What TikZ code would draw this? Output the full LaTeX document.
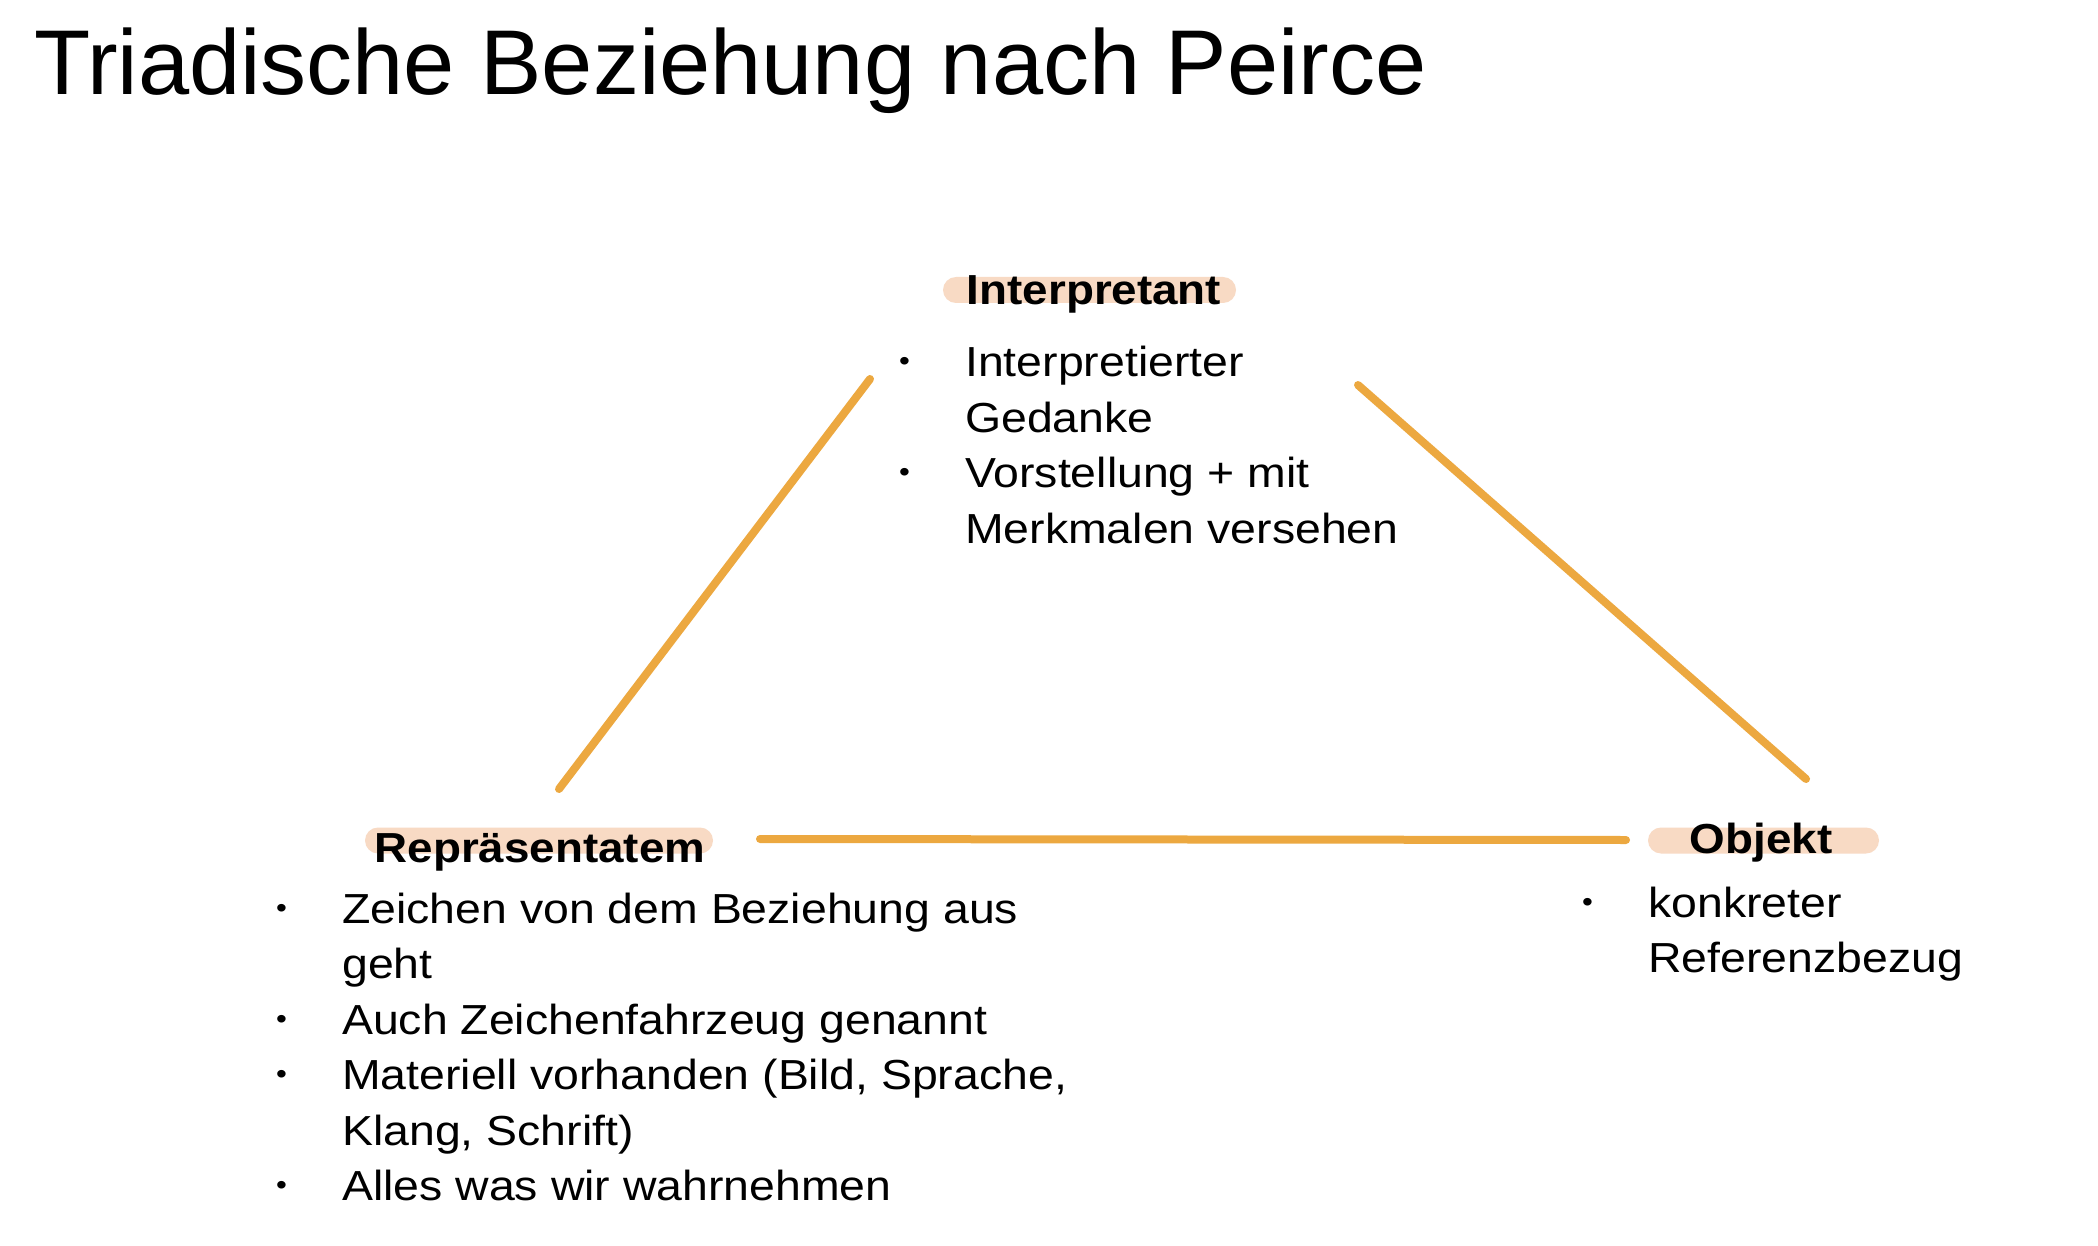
\documentclass[tikz,border=0pt]{standalone}
\usepackage{fontspec}
\setmainfont{Liberation Sans}
\newfontfamily\bodyfont[FakeStretch=1.105]{Liberation Sans}
\newfontfamily\headfont[FakeStretch=1.09]{Liberation Sans}
\usepackage{array}

\definecolor{edgeorange}{RGB}{236,168,64}
\definecolor{pillpeach}{RGB}{248,218,196}

\tikzset{
  edge/.style={draw=edgeorange, line width=8pt, line cap=round},
  pill/.style={fill=pillpeach, rounded corners=13pt, inner sep=0pt, minimum height=26pt},
  heading/.style={anchor=base, inner sep=0pt, font=\headfont\fontsize{42}{50}\selectfont\bfseries},
  body/.style={anchor=base west, inner sep=0pt, font=\bodyfont\fontsize{42}{55.5}\selectfont},
  title/.style={anchor=base west, inner sep=0pt, font=\fontsize{92}{110}\selectfont}
}

% bullet marker and list block
\newcommand{\bmark}{\raisebox{6pt}{\fontsize{28}{28}\selectfont\textbullet}}
\newenvironment{blist}{\begin{tabular}[t]{@{}p{66pt}@{}l@{}}}{\end{tabular}}

\begin{document}
\begin{tikzpicture}[x=1pt,y=-1pt]
\useasboundingbox (0,0) rectangle (2098,1246);
\fill[white] (0,0) rectangle (2098,1246);

% title
\node[title] (title) at (34,95) {Triadische Beziehung nach Peirce};

% highlight pills behind the headings
\node[pill, minimum width=293pt] (pillI) at (1089.5,290) {};
\node[pill, minimum width=348pt] (pillR) at (539,840.5) {};
\node[pill, minimum width=231pt] (pillO) at (1763.5,840.5) {};

% headings
\node[heading] (interpretant) at (1094,305) {Interpretant};
\node[heading] (repraesentatem) at (540,862) {Repräsentatem};
\node[heading] (objekt) at (1761,853) {Objekt};

% bullet lists
\node[body] (listI) at (899,377) {\begin{blist}
\bmark & Interpretierter\\
       & Gedanke\\
\bmark & Vorstellung + mit\\
       & Merkmalen versehen
\end{blist}};

\node[body] (listR) at (276,923) {\begin{blist}
\bmark & Zeichen von dem Beziehung aus\\
       & geht\\
\bmark & Auch Zeichenfahrzeug genannt\\
\bmark & Materiell vorhanden (Bild, Sprache,\\
       & Klang, Schrift)\\
\bmark & Alles was wir wahrnehmen
\end{blist}};

\node[body] (listO) at (1582,917) {\begin{blist}
\bmark & konkreter\\
       & Referenzbezug
\end{blist}};

% triangle sides
\coordinate (rTop) at (559,789);
\coordinate (iLeft) at (870,379);
\coordinate (iRight) at (1358,385);
\coordinate (oTop) at (1806,779);
\coordinate (rRight) at (760,839);
\coordinate (oLeft) at (1626,840);

\draw[edge] (rTop) -- (iLeft);
\draw[edge] (iRight) -- (oTop);
\draw[edge] (rRight) -- (oLeft);
\end{tikzpicture}
\end{document}
